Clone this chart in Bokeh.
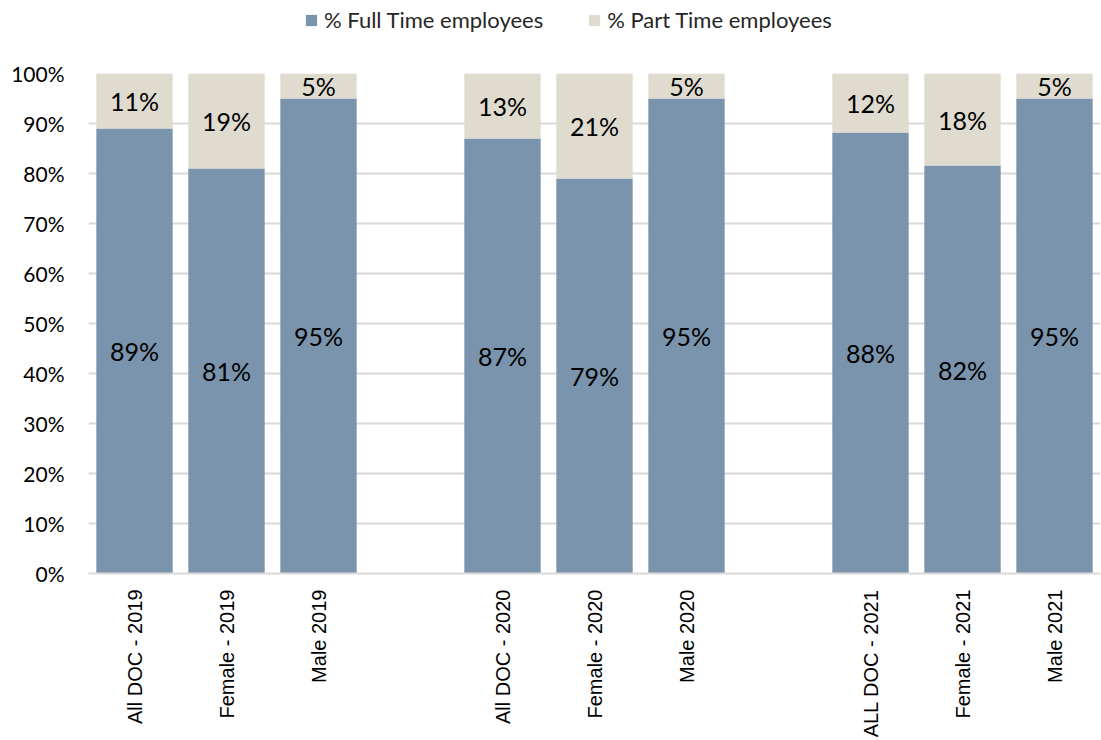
import math
from bokeh.plotting import figure
from bokeh.layouts import column
from bokeh.models import ColumnDataSource, FactorRange, Legend, LegendItem, FixedTicker, CustomJSTickFormatter
from bokeh.core.properties import value
from bokeh.embed import file_html
from bokeh.resources import INLINE

categories = ["All DOC - 2019", "Female - 2019", "Male 2019",
              "All DOC - 2020", "Female - 2020", "Male 2020",
              "ALL DOC - 2021", "Female - 2021", "Male 2021"]
full_time = [89, 81, 95, 87, 79, 95, 88.2, 81.6, 95]
part_time = [11, 19, 5, 13, 21, 5, 11.8, 18.4, 5]
full_labels = ["89%", "81%", "95%", "87%", "79%", "95%", "88%", "82%", "95%"]
part_labels = ["11%", "19%", "5%", "13%", "21%", "5%", "12%", "18%", "5%"]
series_names = ["% Full Time employees", "% Part Time employees"]
y_ticks = [0, 10, 20, 30, 40, 50, 60, 70, 80, 90, 100]

factors = categories[:3] + [" "] + categories[3:6] + ["  "] + categories[6:]

FT_COLOR = "#7A94AD"
PT_COLOR = "#DFDCCF"
COLORS = [FT_COLOR, PT_COLOR]

src = ColumnDataSource(dict(
    cat=categories, ft=full_time, pt=part_time,
    ft_mid=[f / 2 for f in full_time],
    pt_mid=[f + p / 2 for f, p in zip(full_time, part_time)],
    ft_lab=full_labels, pt_lab=part_labels,
))

LEG_H = 60
p = figure(x_range=FactorRange(*factors, range_padding=0), y_range=(0, 100),
           width=1101, height=740 - LEG_H, output_backend="svg", toolbar_location=None,
           min_border_left=88, min_border_right=1, min_border_top=73 - LEG_H, min_border_bottom=0)
p.outline_line_color = None

r = p.vbar_stack(["ft", "pt"], x="cat", width=0.83, source=src,
                 color=COLORS, line_color=None)

p.text(x="cat", y="ft_mid", text="ft_lab", source=src, text_align="center",
       text_baseline="middle", text_font=value("Lato"), text_font_size="25px", text_color="black")
p.text(x="cat", y="pt_mid", text="pt_lab", source=src, text_align="center",
       text_baseline="middle", text_font=value("Lato"), text_font_size="25px", text_color="black")

p.yaxis.ticker = FixedTicker(ticks=y_ticks)
p.yaxis.formatter = CustomJSTickFormatter(code="return tick + '%';")
p.yaxis.axis_line_color = None
p.yaxis.major_tick_line_color = None
p.yaxis.minor_tick_line_color = None
p.yaxis.major_label_text_font = "Lato"
p.yaxis.major_label_text_font_size = "21px"
p.yaxis.major_label_text_color = "black"
p.yaxis.major_label_standoff = 18

p.xaxis.axis_line_color = "#D9D9D9"
p.xaxis.axis_line_width = 2
p.xaxis.major_tick_line_color = None
p.xaxis.minor_tick_line_color = None
p.xaxis.major_label_orientation = math.pi / 2
p.xaxis.major_label_text_font = "Liberation Sans"
p.xaxis.major_label_text_font_size = "20px"
p.xaxis.major_label_text_color = "black"
p.xaxis.major_label_standoff = 10

p.xgrid.grid_line_color = None
p.ygrid.grid_line_color = "#D9D9D9"
p.ygrid.grid_line_width = 2

# legend strip above the chart (its own bars lie outside its visible range)
lf = figure(width=1101, height=LEG_H, output_backend="svg", toolbar_location=None,
            x_range=FactorRange(*factors), y_range=(1000, 1001), min_border=0)
lf.axis.visible = False
lf.grid.visible = False
lf.outline_line_color = None
dummies = lf.vbar_stack(["ft", "pt"], x="cat", width=0.83, source=src,
                        color=COLORS, line_color=None)
legend = Legend(items=[LegendItem(label=n, renderers=[d]) for n, d in zip(series_names, dummies)],
                orientation="horizontal", location=(216, 27),
                label_text_font="Lato", label_text_font_size="22px", label_text_color="#262626",
                glyph_width=14, glyph_height=14, spacing=44, border_line_color=None,
                background_fill_alpha=0, margin=0, padding=0, label_standoff=6)
lf.add_layout(legend, "center")

open("out.html", "w").write(file_html(column(lf, p, spacing=0), INLINE))
